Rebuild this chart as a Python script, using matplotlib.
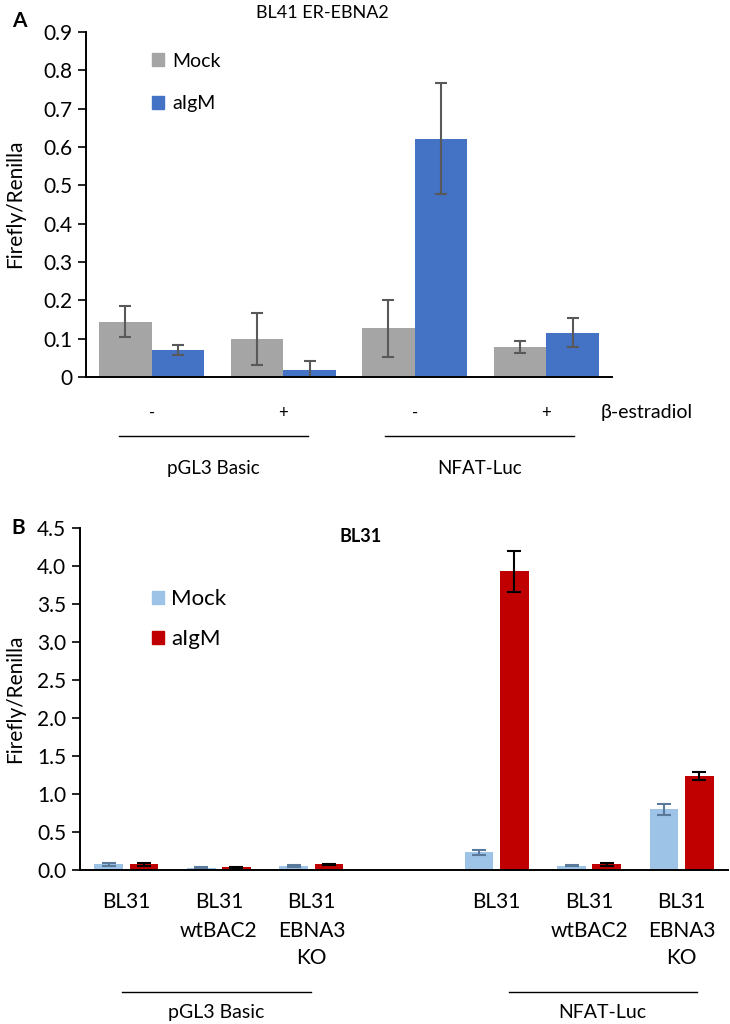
import numpy as np
import matplotlib
matplotlib.use('Agg')
import matplotlib.pyplot as plt
from matplotlib.patches import Patch
from matplotlib.ticker import FuncFormatter

plt.rcParams['font.family'] = ['Lato', 'DejaVu Sans']

# panel A: BL41 ER-EBNA2
a_groups = ['-', '+', '-', '+']
a_mock = [0.144, 0.099, 0.127, 0.078]
a_mock_err = [0.040, 0.068, 0.075, 0.016]
a_igm = [0.070, 0.017, 0.622, 0.116]
a_igm_err = [0.013, 0.025, 0.145, 0.038]
a_constructs = ['pGL3 Basic', 'NFAT-Luc']

# panel B: BL31
b_labels = ['BL31', 'BL31\nwtBAC2', 'BL31\nEBNA3\nKO',
            'BL31', 'BL31\nwtBAC2', 'BL31\nEBNA3\nKO']
b_pos = [0, 1, 2, 4, 5, 6]
b_mock = [0.070, 0.026, 0.048, 0.228, 0.053, 0.794]
b_mock_err = [0.020, 0.008, 0.008, 0.032, 0.010, 0.077]
b_igm = [0.070, 0.030, 0.070, 3.93, 0.070, 1.237]
b_igm_err = [0.020, 0.008, 0.010, 0.27, 0.015, 0.052]
b_constructs = ['pGL3 Basic', 'NFAT-Luc']

W, H = 730, 1024
fig = plt.figure(figsize=(W / 100, H / 100), dpi=100)


def fbox(l, t, r, b):
    return [l / W, 1 - b / H, (r - l) / W, (b - t) / H]


def style(ax):
    for s in ('top', 'right'):
        ax.spines[s].set_visible(False)
    ax.spines['left'].set_linewidth(1.4)
    ax.spines['bottom'].set_linewidth(1.4)
    ax.tick_params(axis='y', direction='out', length=6, width=1.2,
                   labelsize=15, pad=4)
    ax.tick_params(axis='x', length=0, labelbottom=False)


# ---- A ----
axA = fig.add_axes(fbox(86, 32, 612, 377))
x = np.arange(len(a_groups))
axA.bar(x - 0.2, a_mock, 0.4, color='#A5A5A5')
axA.bar(x + 0.2, a_igm, 0.4, color='#4472C4')
axA.errorbar(x - 0.2, a_mock, yerr=a_mock_err, fmt='none', ecolor='#595959',
             elinewidth=1.5, capsize=4.5, capthick=1.5)
axA.errorbar(x + 0.2, a_igm, yerr=a_igm_err, fmt='none', ecolor='#595959',
             elinewidth=1.5, capsize=4.5, capthick=1.5)
axA.set_xlim(-0.5, 3.5)
axA.set_ylim(0, 0.9)
axA.set_yticks(np.arange(0, 0.91, 0.1))
axA.yaxis.set_major_formatter(FuncFormatter(lambda v, p: '0' if abs(v) < 1e-9 else f'{v:.1f}'))
style(axA)
tA = axA.get_xaxis_transform()
for i, g in enumerate(a_groups):
    axA.text(i, -0.104, g, transform=tA, ha='center', va='center', fontsize=12)
axA.text(3.41, -0.104, 'β-estradiol', transform=tA, ha='left', va='center',
         fontsize=14)
for (x0, x1), name in zip([(-0.25, 1.19), (1.77, 3.21)], a_constructs):
    axA.plot([x0, x1], [-0.171, -0.171], color='black', lw=1.0,
             transform=tA, clip_on=False)
    axA.text((x0 + x1) / 2, -0.264, name, transform=tA, ha='center',
             va='center', fontsize=13.5)
axA.legend(handles=[Patch(color='#A5A5A5', label='Mock'),
                    Patch(color='#4472C4', label='aIgM')],
           loc='upper left', bbox_to_anchor=(0.125, 0.94), frameon=False,
           fontsize=14, handlelength=0.65, handleheight=0.65, handletextpad=0.4,
           labelspacing=1.3, borderpad=0, borderaxespad=0)
fig.text(322 / W, 1 - 13 / H, 'BL41 ER-EBNA2', ha='center', va='center',
         fontsize=13)
fig.text(19 / W, 1 - 21 / H, 'A', ha='center', va='center', fontsize=15,
         fontweight='bold')
fig.text(15 / W, 1 - 204 / H, 'Firefly/Renilla', rotation=90, ha='center',
         va='center', fontsize=15)

# ---- B ----
axB = fig.add_axes(fbox(80, 527.7, 728, 869.7))
bp = np.array(b_pos)
axB.bar(bp - 0.19, b_mock, 0.31, color='#9DC3E6')
axB.bar(bp + 0.19, b_igm, 0.31, color='#C00000')
axB.errorbar(bp - 0.19, b_mock, yerr=b_mock_err, fmt='none', ecolor='#5B7A9B',
             elinewidth=1.5, capsize=5, capthick=1.5)
axB.errorbar(bp + 0.19, b_igm, yerr=b_igm_err, fmt='none', ecolor='black',
             elinewidth=1.5, capsize=5, capthick=1.5)
axB.set_xlim(-0.5, 6.5)
axB.set_ylim(0, 4.5)
axB.set_yticks(np.arange(0, 4.51, 0.5))
axB.yaxis.set_major_formatter(FuncFormatter(lambda v, p: f'{v:.1f}'))
style(axB)
tB = axB.get_xaxis_transform()
rows = [-0.0936, -0.178, -0.257]
for p, lab in zip(b_pos, b_labels):
    for k, line in enumerate(lab.split('\n')):
        axB.text(p, rows[k], line, transform=tB, ha='center', va='center',
                 fontsize=15)
for (x0, x1), name in zip([(-0.05, 2.0), (4.13, 6.16)], b_constructs):
    axB.plot([x0, x1], [-0.358, -0.358], color='black', lw=1.0,
             transform=tB, clip_on=False)
    axB.text((x0 + x1) / 2, -0.418, name, transform=tB, ha='center',
             va='center', fontsize=14)
axB.legend(handles=[Patch(color='#9DC3E6', label='Mock'),
                    Patch(color='#C00000', label='aIgM')],
           loc='upper left', bbox_to_anchor=(0.111, 0.82), frameon=False,
           fontsize=16, handlelength=0.55, handleheight=0.55, handletextpad=0.3,
           labelspacing=0.9, borderpad=0, borderaxespad=0)
fig.text(361 / W, 1 - 537 / H, 'BL31', ha='center', va='center',
         fontsize=13, fontweight='bold')
fig.text(18 / W, 1 - 528 / H, 'B', ha='center', va='center', fontsize=15,
         fontweight='bold')
fig.text(15 / W, 1 - 699 / H, 'Firefly/Renilla', rotation=90, ha='center',
         va='center', fontsize=15)

fig.savefig('out.png', dpi=100)
